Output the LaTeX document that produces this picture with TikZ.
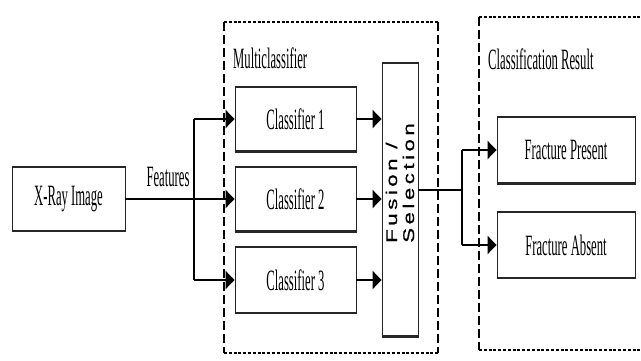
\documentclass[tikz,border=0pt]{standalone}
\usepackage{fontspec}
\setmainfont[FakeStretch=0.43]{Liberation Serif}
\newfontfamily\fusfont[FakeStretch=1.45,LetterSpace=22,FakeBold=0.8]{Liberation Sans}
\usetikzlibrary{arrows.meta}
\tikzset{
  box/.style={draw=black!85, line width=0.9pt, inner sep=0pt, fill=white,
    font=\fontsize{29.5}{32}\selectfont,
    path picture={\draw[black!85, line width=3.5pt]
      (path picture bounding box.north west) -- (path picture bounding box.north east)
      (path picture bounding box.south west) -- (path picture bounding box.south east);}},
  lbl/.style={inner sep=0pt, font=\fontsize{29.5}{32}\selectfont},
  arr/.style={line width=2.6pt, -{Triangle[length=9pt,width=18pt]}},
  thinline/.style={line width=1.1pt},
  hdash/.style={line width=2.6pt, dash pattern=on 3pt off 1.8pt},
  vdash/.style={line width=1.1pt, dash pattern=on 9pt off 4pt},
}
\begin{document}
\begin{tikzpicture}[x=1pt,y=-1pt]
\useasboundingbox[fill=white] (0,0) rectangle (641,360);
% dashed group frames
\draw[hdash] (224,22) -- (438,22) (224,353) -- (438,353);
\draw[vdash] (224,22) -- (224,353) (438,22) -- (438,353);
\draw[hdash] (479,17) -- (641,17) (479,350) -- (641,350);
\draw[vdash] (479,17) -- (479,350);
\node[lbl, anchor=west] (mc) at (233,58) {Multiclassifier};
\node[lbl, anchor=west] (cr) at (488,59) {Classification Result};
% nodes
\node[box, minimum width=113pt, minimum height=65pt] (xray) at (68.5,199) {X-Ray Image};
\node[box, minimum width=121pt, minimum height=66pt] (c1) at (295.5,119) {Classifier 1};
\node[box, minimum width=121pt, minimum height=66pt] (c2) at (295.5,199) {Classifier 2};
\node[box, minimum width=121pt, minimum height=67pt] (c3) at (295.5,280) {Classifier 3};
\node[box, minimum width=36pt, minimum height=275pt] (fus) at (400,199.5) {};
\node[inner sep=0pt, rotate=90, align=left, font=\fusfont\fontsize{15.5}{17}\selectfont] (fustxt) at (400,183) {Fusion /\\Selection};
\node[box, minimum width=138pt, minimum height=68pt] (fp) at (566,150) {Fracture Present};
\node[box, minimum width=138pt, minimum height=67pt] (fa) at (566,245) {Fracture Absent};
\node[lbl] (feat) at (168,177) {Features};
% connectors
\coordinate (split) at (194,199);
\draw[line width=2.6pt] (xray.east) -- (split);
\draw[thinline] (split |- c1.west) -- (split |- c3.west);
\draw[arr] (split |- c1.west) -- (c1.west);
\draw[arr] (split) -- (c2.west);
\draw[arr] (split |- c3.west) -- (c3.west);
\draw[arr] (c1.east) -- (fus.west |- c1.east);
\draw[arr] (c2.east) -- (fus.west |- c2.east);
\draw[arr] (c3.east) -- (fus.west |- c3.east);
\coordinate (out) at (418,190);
\coordinate (split2) at (462,190);
\draw[thinline] (out) -- (split2);
\draw[thinline] (split2 |- fp.west) -- (split2 |- fa.west);
\draw[arr] (split2 |- fp.west) -- (fp.west);
\draw[arr] (split2 |- fa.west) -- (fa.west);
\end{tikzpicture}
\end{document}
